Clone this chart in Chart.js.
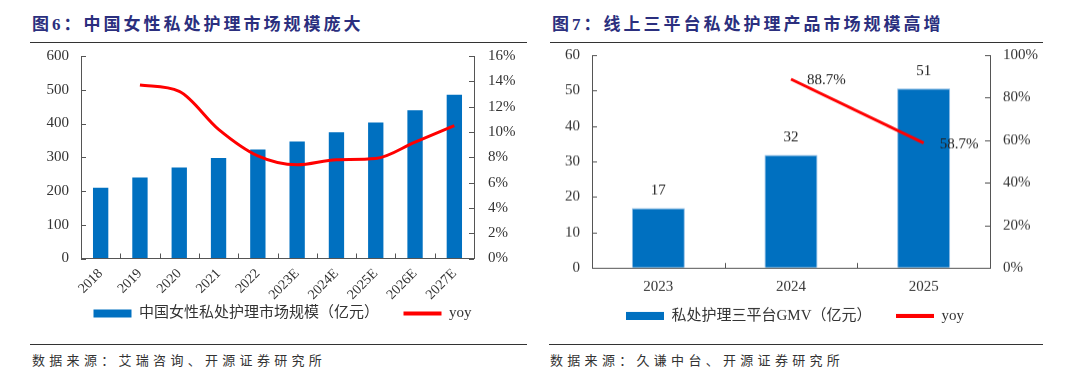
<!DOCTYPE html>
<html>
<head>
<meta charset="utf-8">
<script src="https://cdn.jsdelivr.net/npm/chart.js@4.4.1/dist/chart.umd.min.js"></script>
<style>
  html, body { margin: 0; padding: 0; background: #fff; }
  body { width: 1080px; height: 386px; position: relative; overflow: hidden; }
  .title { position: absolute; top: 14px; font-family: 'Liberation Serif', 'Noto Sans CJK SC', serif; font-weight: bold; font-size: 17px; letter-spacing: 3px; color: #2B2F7E; white-space: nowrap; line-height: 22px; }
  .rule { position: absolute; height: 0; border-top: 1.5px solid #333; }
  .src { position: absolute; top: 351px; font-family: 'Noto Sans CJK SC', sans-serif; font-size: 13px; letter-spacing: 4.3px; color: #333; white-space: nowrap; line-height: 18px; }
  .cv { position: absolute; }
</style>
</head>
<body>
<div class="title" style="left:32px;">图6：中国女性私处护理市场规模庞大</div>
<div class="rule" style="left:30px; width:497px; top:42px;"></div>
<div class="title" style="left:552px;">图7：线上三平台私处护理产品市场规模高增</div>
<div class="rule" style="left:550px; width:493px; top:42px;"></div>

<div class="rule" style="left:30px; width:497px; top:344px;"></div>
<div class="rule" style="left:549px; width:494px; top:344px;"></div>
<div class="src" style="left:32px;">数据来源：艾瑞咨询、开源证券研究所</div>
<div class="src" style="left:550px;">数据来源：久谦中台、开源证券研究所</div>

<div class="cv" style="left:30px; top:33px; width:505px; height:298px;"><canvas id="c6"></canvas></div>
<div class="cv" style="left:545px; top:33px; width:500px; height:299.5px;"><canvas id="c7"></canvas></div>

<script>
// ---- data: figure 6 ----
const categories6 = ['2018','2019','2020','2021','2022','2023E','2024E','2025E','2026E','2027E'];
const market6 = [210, 240, 270, 298, 323, 347, 374, 403, 439, 485];
const yoy6 = [null, 13.7, 13.2, 10.2, 8.1, 7.4, 7.8, 7.9, 9.2, 10.5];
const seriesNames6 = ['中国女性私处护理市场规模（亿元）', 'yoy'];

// ---- data: figure 7 ----
const categories7 = ['2023','2024','2025'];
const gmv7 = [16.9, 31.9, 50.6];
const yoy7 = [null, 88.7, 58.7];
const seriesNames7 = ['私处护理三平台GMV（亿元）', 'yoy'];

const BLUE = '#0070C0';
const RED = '#FF0000';
const AXIS = '#555555';
const TXT = '#333333';
const SERIF = "'Liberation Serif', 'Times New Roman', serif";
const LEGEND_FONT = "'Liberation Serif', 'Noto Sans CJK SC', serif";

// inward tick marks drawn from library scales
const inwardTicks = {
  id: 'inwardTicks',
  afterDatasetsDraw(chart) {
    const ctx = chart.ctx, a = chart.chartArea;
    ctx.save();
    ctx.strokeStyle = AXIS; ctx.lineWidth = 1;
    ctx.beginPath();
    const yl = chart.scales.y, yr = chart.scales.y1, x = chart.scales.x;
    yl.ticks.forEach((t, i) => { const p = Math.round(yl.getPixelForTick(i)) + 0.5; ctx.moveTo(a.left, p); ctx.lineTo(a.left + 5, p); });
    yr.ticks.forEach((t, i) => { const p = Math.round(yr.getPixelForTick(i)) + 0.5; ctx.moveTo(a.right, p); ctx.lineTo(a.right - 5, p); });
    for (let i = 1; i < x.ticks.length; i++) {
      const p = Math.round(x.getPixelForValue(i - 0.5)) + 0.5;
      ctx.moveTo(p, a.bottom); ctx.lineTo(p, a.bottom - 5);
    }
    ctx.stroke();
    ctx.restore();
  }
};

function legendLabels(chart) {
  const items = Chart.defaults.plugins.legend.labels.generateLabels(chart);
  items.forEach(it => {
    const ds = chart.data.datasets[it.datasetIndex];
    it.pointStyle = ds.type === 'line' ? 'line' : 'rect';
    if (ds.type === 'line') { it.strokeStyle = RED; it.lineWidth = 4; }
    else { it.lineWidth = 0; it.text = it.text + '\u3000\u3000'; }
  });
  items.sort((a, b) => a.datasetIndex - b.datasetIndex);
  return items;
}

function legendOpts() {
  return {
    position: 'bottom',
    labels: {
      usePointStyle: true, pointStyleWidth: 38, boxHeight: 8,
      font: { family: LEGEND_FONT, size: 15 }, color: TXT, padding: 2,
      generateLabels: legendLabels
    }
  };
}

function yAxis(pos, min, max, step, width, pad, pct) {
  return {
    type: 'linear', position: pos, min: min, max: max,
    grid: { drawOnChartArea: false, drawTicks: false },
    border: { display: true, color: AXIS, width: 1 },
    ticks: { stepSize: step, padding: pad, color: TXT, font: { family: SERIF, size: 15 },
      callback: v => pct ? v + '%' : v },
    afterFit: s => { s.width = width; }
  };
}

// ---- figure 6 ----
new Chart(document.getElementById('c6'), {
  data: {
    labels: categories6,
    datasets: [
      { type: 'bar', label: seriesNames6[0], data: market6, backgroundColor: BLUE, borderWidth: 0,
        categoryPercentage: 1, barPercentage: 0.39, yAxisID: 'y', order: 1 },
      { type: 'line', label: seriesNames6[1], data: yoy6, borderColor: RED, backgroundColor: RED, borderWidth: 3,
        pointRadius: 0, cubicInterpolationMode: 'monotone', yAxisID: 'y1', order: 0 }
    ]
  },
  options: {
    responsive: true, maintainAspectRatio: false, animation: false,
    layout: { padding: { top: 8, bottom: 0, left: 0, right: 0 } },
    plugins: { legend: legendOpts(), tooltip: { enabled: false } },
    scales: {
      x: {
        grid: { drawOnChartArea: false, drawTicks: false },
        border: { display: true, color: AXIS, width: 1 },
        ticks: { color: TXT, font: { family: SERIF, size: 14 }, minRotation: 45, maxRotation: 45, padding: 7, autoSkip: false },
        afterFit: s => { s.height = 45.5; }
      },
      y: yAxis('left', 0, 600, 100, 51, 12, false),
      y1: yAxis('right', 0, 16, 2, 61, 14, true)
    }
  },
  plugins: [inwardTicks]
});

// data labels for figure 7
const valueLabels = {
  id: 'valueLabels',
  afterDatasetsDraw(chart) {
    const ctx = chart.ctx;
    ctx.save();
    ctx.font = '15px ' + SERIF;
    ctx.fillStyle = '#222';
    const bars = chart.getDatasetMeta(0).data;
    bars.forEach((el, i) => {
      ctx.textAlign = 'center'; ctx.textBaseline = 'middle';
      ctx.fillText(gmv7[i].toFixed(0), el.x, el.y - 17);
    });
    const pts = chart.getDatasetMeta(1).data;
    pts.forEach((el, i) => {
      if (yoy7[i] == null) return;
      ctx.textAlign = 'left'; ctx.textBaseline = 'middle';
      ctx.fillText(yoy7[i].toFixed(1) + '%', el.x + 16, el.y + 1);
    });
    ctx.restore();
  }
};

// ---- figure 7 ----
new Chart(document.getElementById('c7'), {
  data: {
    labels: categories7,
    datasets: [
      { type: 'bar', label: seriesNames7[0], data: gmv7, backgroundColor: BLUE, borderColor: '#8FBDE6', borderWidth: 1,
        categoryPercentage: 1, barPercentage: 0.40, yAxisID: 'y', order: 1 },
      { type: 'line', label: seriesNames7[1], data: yoy7, borderColor: RED, backgroundColor: RED, borderWidth: 3,
        pointRadius: 0, tension: 0, yAxisID: 'y1', order: 0 }
    ]
  },
  options: {
    responsive: true, maintainAspectRatio: false, animation: false,
    layout: { padding: { top: 8, bottom: 0, left: 0, right: 0 } },
    plugins: { legend: legendOpts(), tooltip: { enabled: false } },
    scales: {
      x: {
        grid: { drawOnChartArea: false, drawTicks: false },
        border: { display: true, color: AXIS, width: 1 },
        ticks: { color: TXT, font: { family: SERIF, size: 15 }, padding: 10, maxRotation: 0 },
        afterFit: s => { s.height = 38.3; }
      },
      y: yAxis('left', 0, 60, 10, 47, 12, false),
      y1: yAxis('right', 0, 100, 20, 55, 13, true)
    }
  },
  plugins: [inwardTicks, valueLabels]
});
</script>
</body>
</html>
